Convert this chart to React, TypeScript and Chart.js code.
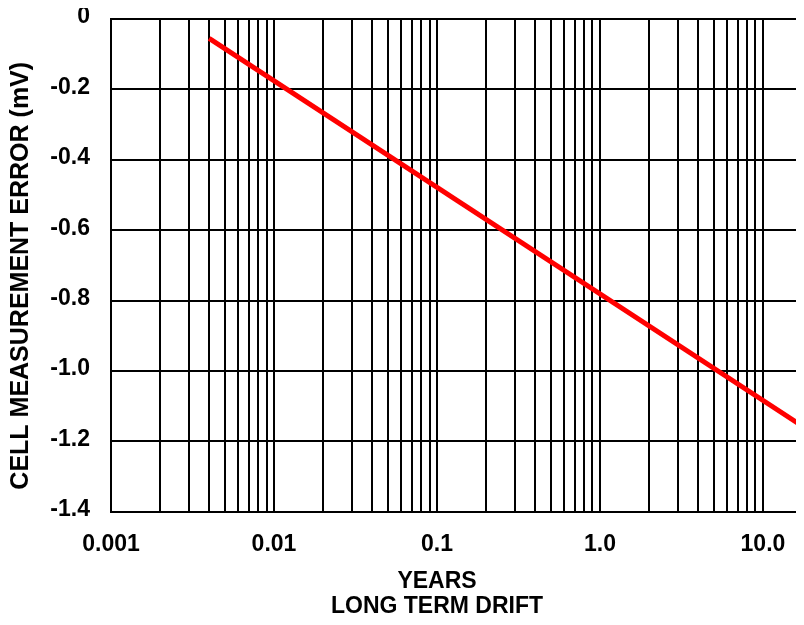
import React, { useEffect, useRef } from "react";
import { Chart, registerables } from "chart.js";

Chart.register(...registerables);

// ---- data ----
const lineX = [0.004, 20];
const lineY = [-0.055, -1.175];

const xGridTicks = [
  0.001, 0.002, 0.003, 0.004, 0.005, 0.006, 0.007, 0.008, 0.009,
  0.01, 0.02, 0.03, 0.04, 0.05, 0.06, 0.07, 0.08, 0.09,
  0.1, 0.2, 0.3, 0.4, 0.5, 0.6, 0.7, 0.8, 0.9,
  1, 2, 3, 4, 5, 6, 7, 8, 9,
  10, 20,
];
const xLabelValues = [0.001, 0.01, 0.1, 1, 10];
const xLabelTexts = ["0.001", "0.01", "0.1", "1.0", "10.0"];

const yTickValues = [0, -0.2, -0.4, -0.6, -0.8, -1.0, -1.2, -1.4];
const yTickTexts = ["0", "-0.2", "-0.4", "-0.6", "-0.8", "-1.0", "-1.2", "-1.4"];

const yTitle = "CELL MEASUREMENT ERROR (mV)";
const xTitleLines = ["YEARS", "LONG TERM DRIFT"];

const FONT = "'Liberation Sans', Arial, Helvetica, sans-serif";

export default function App() {
  const ref = useRef<HTMLCanvasElement | null>(null);

  useEffect(() => {
    if (!ref.current) return;
    const chart = new Chart(ref.current, {
      type: "line",
      data: {
        datasets: [
          {
            data: lineX.map((x, i) => ({ x, y: lineY[i] })),
            borderColor: "#ff0000",
            borderWidth: 5,
            pointRadius: 0,
            fill: false,
            tension: 0,
          },
        ],
      },
      options: {
        animation: false,
        responsive: false,
        devicePixelRatio: 1,
        layout: { padding: { top: 19, bottom: 6, left: 0, right: 0 } },
        plugins: {
          legend: { display: false },
          tooltip: { enabled: false },
          title: {
            display: true,
            position: "bottom",
            text: xTitleLines,
            color: "#000",
            font: { family: FONT, size: 23, weight: "bold", lineHeight: 1.087 },
            padding: { top: 0, bottom: 0 },
          },
        },
        scales: {
          x: {
            type: "logarithmic",
            min: 0.001,
            max: 20,
            afterBuildTicks: (s: any) => {
              s.ticks = xGridTicks.map((v) => ({ value: v }));
            },
            afterFit: (s: any) => {
              s.height = 57.3;
            },
            grid: { color: "#000", lineWidth: 2, drawTicks: false },
            border: { color: "#000", width: 2 },
            ticks: {
              autoSkip: false,
              maxRotation: 0,
              minRotation: 0,
              padding: 19.5,
              color: "#000",
              font: { family: FONT, size: 23, weight: "bold", lineHeight: 1.2 },
              callback: (v: any) => {
                const i = xLabelValues.findIndex((t) => Math.abs(t - Number(v)) < 1e-9);
                return i >= 0 ? xLabelTexts[i] : "";
              },
            },
          },
          y: {
            type: "linear",
            min: -1.4,
            max: 0,
            afterBuildTicks: (s: any) => {
              s.ticks = yTickValues.map((v) => ({ value: v }));
            },
            afterFit: (s: any) => {
              s.width = 103;
            },
            grid: {
              color: "#000",
              lineWidth: 2,
              drawTicks: true,
              tickLength: 21,
              tickColor: "rgba(0,0,0,0)",
            },
            border: { color: "#000", width: 2 },
            ticks: {
              padding: 0,
              labelOffset: -2,
              color: "#000",
              font: { family: FONT, size: 23, weight: "bold", lineHeight: 0.9 },
              callback: (v: any) => {
                const i = yTickValues.findIndex((t) => Math.abs(t - Number(v)) < 1e-9);
                return i >= 0 ? yTickTexts[i] : "";
              },
            },
            title: {
              display: true,
              text: yTitle + "   ",
              color: "#000",
              font: { family: FONT, size: 25, weight: "bold", lineHeight: 1 },
              padding: { top: 1, bottom: 0 },
            },
          },
          spacer: {
            type: "linear",
            position: "right",
            display: true,
            grid: { display: false, drawTicks: false },
            border: { display: false },
            ticks: { display: false },
            afterFit: (s: any) => {
              s.width = 54;
            },
          },
        },
      },
    } as any);
    return () => chart.destroy();
  }, []);

  return (
    <div style={{ width: 796, height: 625, overflow: "hidden", marginTop: -8 }}>
      <canvas
        ref={ref}
        width={858}
        height={625}
        style={{ display: "block", width: 858, height: 625 }}
      />
    </div>
  );
}
